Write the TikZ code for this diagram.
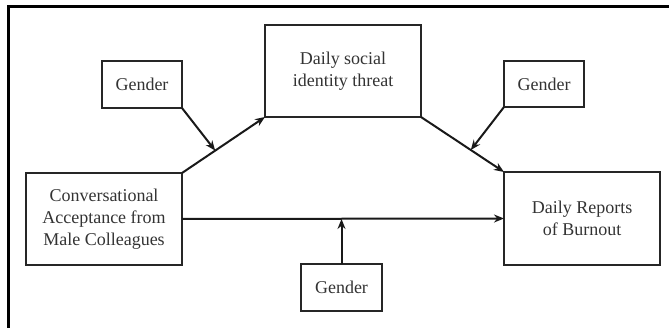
\documentclass[tikz,border=0pt]{standalone}
\usepackage{fontspec}
\setmainfont{Liberation Serif}
\usetikzlibrary{arrows.meta}
\begin{document}
\begin{tikzpicture}[x=1pt,y=-1pt,
  box/.style={draw=black!85, line width=2pt, inner sep=0pt, outer sep=0pt, align=center,
    font=\fontsize{18}{22}\selectfont, text=black!80},
  conn/.style={line width=2pt, draw=black!90},
  arr/.style={conn, -{Stealth[length=10pt,width=8pt]}}]
\useasboundingbox (0,0) rectangle (669,328);
\draw[line width=3pt] (8,329) -- (8,7) -- (669,7);
\node[box, minimum width=80, minimum height=47] (g1) at (142,84.5) {Gender};
\node[box, minimum width=156, minimum height=92] (mid) at (343,71) {Daily social\\identity threat};
\node[box, minimum width=80, minimum height=46] (g2) at (544,84) {Gender};
\node[box, minimum width=156, minimum height=92] (conv) at (104,219) {Conversational\\Acceptance from\\Male Colleagues};
\node[box, minimum width=156, minimum height=93] (burn) at (582,218.5) {Daily Reports\\of Burnout};
\node[box, minimum width=81, minimum height=47] (g3) at (341.5,287.5) {Gender};
\draw[arr] (conv.north east) -- coordinate[pos=0.4] (m1) (mid.south west);
\draw[arr] (g1.south east) -- (m1);
\draw[arr] (mid.south east) -- coordinate[pos=0.6] (m2) (burn.north west);
\draw[arr] (g2.south west) -- (m2);
\draw[arr] (conv.east) -- (burn.west);
\coordinate (m3) at (g3.north |- conv.east);
\draw[arr] (g3.north) -- (m3);
\end{tikzpicture}
\end{document}
